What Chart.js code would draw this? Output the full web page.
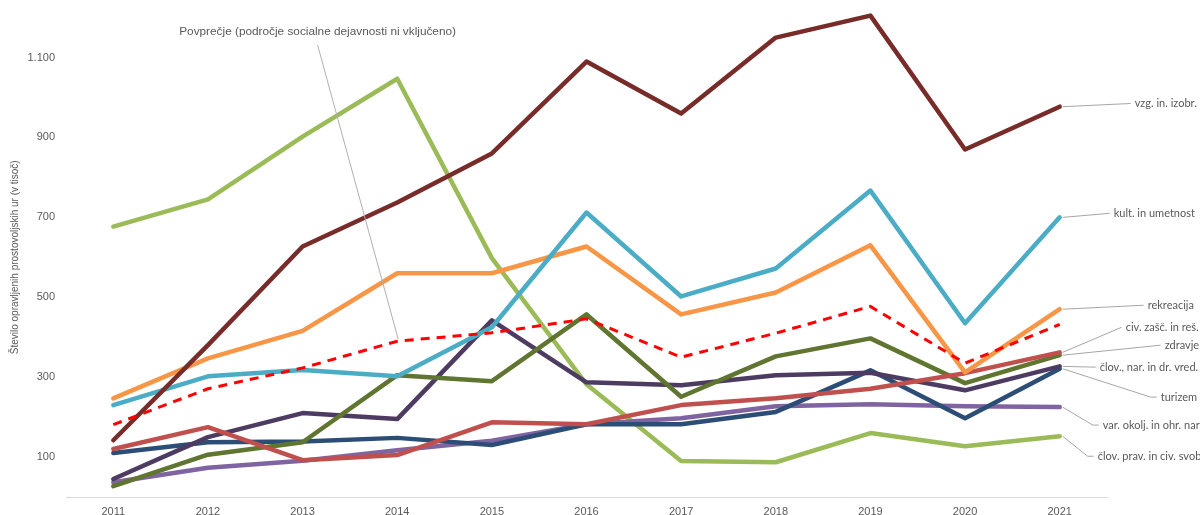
<!DOCTYPE html>
<html>
<head>
<meta charset="utf-8">
<script src="https://cdn.jsdelivr.net/npm/chart.js@4.4.0/dist/chart.umd.min.js"></script>
<style>
  html, body { margin: 0; padding: 0; background: #fff; }
  #okvir { width: 1200px; height: 515px; position: relative; }
</style>
</head>
<body>
<div id="okvir"><canvas id="graf"></canvas></div>
<script>
// podatki (v tisoč ur)
const leta = ['2011', '2012', '2013', '2014', '2015', '2016', '2017', '2018', '2019', '2020', '2021'];
const vzgoja = [142, 380, 627, 737, 860, 1090, 960, 1150, 1205, 870, 977];
const kultura = [230, 302, 318, 302, 425, 712, 502, 572, 767, 435, 700];
const rekreacija = [247, 347, 416, 560, 560, 627, 457, 512, 630, 312, 470];
const povprecje = [181, 271, 323, 390, 411, 446, 350, 410, 477, 335, 432];
const civZascita = [120, 175, 92, 105, 187, 182, 230, 247, 271, 310, 362];
const zdravje = [27, 106, 137, 305, 290, 457, 251, 352, 397, 285, 355];
const clovNarVred = [45, 150, 210, 195, 442, 287, 280, 305, 311, 267, 327];
const turizem = [110, 137, 139, 148, 130, 182, 182, 213, 317, 197, 321];
const varOkolja = [37, 73, 91, 117, 141, 182, 197, 227, 232, 227, 225];
const clovPravice = [677, 745, 902, 1047, 598, 282, 90, 87, 160, 127, 152];
const yOznake = [100, 300, 500, 700, 900, 1100];

const sivaBesedila = '#595959';
const sivaCrte = '#a6a6a6';

// oznake na desni: dx = odmik besedila od zadnje točke, v = višina oznake (na y osi), lom = zalomljena povezava
function serija(ime, podatki, barva, oznaka) {
  return {
    label: ime,
    data: podatki,
    borderColor: barva,
    backgroundColor: barva,
    borderWidth: 4.5,
    pointRadius: 0,
    tension: 0,
    borderJoinStyle: 'round',
    borderCapStyle: 'round',
    clip: false,
    oznaka: oznaka
  };
}

const serije = [
  {
    label: 'Povprečje (področje socialne dejavnosti ni vključeno)',
    data: povprecje,
    borderColor: '#ff0000',
    borderWidth: 3,
    borderDash: [9, 7],
    pointRadius: 0,
    tension: 0,
    clip: false
  },
  serija('vzg. in. izobr.', vzgoja, '#772c2a', { dx: 75, v: 985, lom: false }),
  serija('kult. in umetnost', kultura, '#4bacc6', { dx: 54, v: 710, lom: false }),
  serija('rekreacija', rekreacija, '#f79646', { dx: 88, v: 480, lom: false }),
  serija('civ. zašč. in reš.', civZascita, '#c0504d', { dx: 66, v: 425, lom: false }),
  serija('zdravje', zdravje, '#5f7530', { dx: 105, v: 380, lom: false }),
  serija('člov., nar. in dr. vred.', clovNarVred, '#4d3b62', { dx: 40, v: 325, lom: false }),
  serija('turizem', turizem, '#2c4d75', { dx: 101, v: 250, lom: true }),
  serija('var. okolj. in ohr. nar', varOkolja, '#8064a2', { dx: 43, v: 180, lom: true }),
  serija('člov. prav. in civ. svob', clovPravice, '#9bbb59', { dx: 38, v: 102, lom: true })
];

function oblika(v) {
  return v >= 1000 ? Math.floor(v / 1000) + '.' + String(v % 1000).padStart(3, '0') : String(v);
}

const oznakePlugin = {
  id: 'oznake',
  afterDatasetsDraw(chart) {
    const ctx = chart.ctx;
    const y = chart.scales.y;
    ctx.save();
    ctx.lineWidth = 1;
    ctx.strokeStyle = sivaCrte;
    ctx.fillStyle = sivaBesedila;
    ctx.textBaseline = 'middle';
    ctx.font = '11px Lato, "Liberation Sans", sans-serif';
    chart.data.datasets.forEach((ds, i) => {
      if (!ds.oznaka) return;
      const tocke = chart.getDatasetMeta(i).data;
      const p = tocke[tocke.length - 1];
      const tx = p.x + ds.oznaka.dx;
      const ty = y.getPixelForValue(ds.oznaka.v);
      ctx.beginPath();
      ctx.moveTo(p.x + 3, p.y);
      if (ds.oznaka.lom) {
        ctx.lineTo(tx - 10, ty);
      }
      ctx.lineTo(tx - 4, ty);
      ctx.stroke();
      ctx.textAlign = 'left';
      ctx.fillText(ds.label, tx, ty);
    });

    // oznaka povprečja
    const meta = chart.getDatasetMeta(0).data;
    const t = meta[3];
    const napis = chart.data.datasets[0].label;
    const nx = chart.scales.x.getPixelForValue(2) + 15;
    ctx.font = '11.8px "Liberation Sans", Arial, sans-serif';
    ctx.textAlign = 'center';
    ctx.fillText(napis, nx, 32);
    ctx.beginPath();
    ctx.strokeStyle = '#b0b0b0';
    ctx.moveTo(nx, 45);
    ctx.lineTo(t.x + 1, t.y - 2);
    ctx.stroke();
    ctx.restore();
  }
};

new Chart(document.getElementById('graf'), {
  type: 'line',
  data: { labels: leta, datasets: serije },
  options: {
    responsive: true,
    maintainAspectRatio: false,
    animation: false,
    layout: { padding: { top: 17, right: 93, bottom: 0, left: 0 } },
    plugins: {
      legend: { display: false },
      tooltip: { enabled: false }
    },
    scales: {
      x: {
        offset: true,
        grid: { display: false, drawTicks: false },
        border: { display: true, color: '#d9d9d9', width: 1 },
        ticks: {
          color: sivaBesedila,
          font: { family: '"Liberation Sans", Arial, sans-serif', size: 11 },
          padding: 8,
          maxRotation: 0
        },
        afterFit(s) { s.height = 18; }
      },
      y: {
        min: 0,
        max: 1200,
        grid: { display: false, drawTicks: false },
        border: { display: false },
        afterBuildTicks(s) { s.ticks = yOznake.map(v => ({ value: v })); },
        afterFit(s) { s.width = 66; },
        ticks: {
          color: sivaBesedila,
          padding: 11,
          font: { family: '"Liberation Sans", Arial, sans-serif', size: 11 },
          callback: (v) => oblika(v)
        },
        title: {
          display: true,
          text: 'Število opravljenih prostovoljskih ur (v tisoč)',
          color: sivaBesedila,
          font: { family: '"Liberation Sans", Arial, sans-serif', size: 10 },
          padding: { top: 9, bottom: 0 }
        }
      }
    }
  },
  plugins: [oznakePlugin]
});
</script>
</body>
</html>
